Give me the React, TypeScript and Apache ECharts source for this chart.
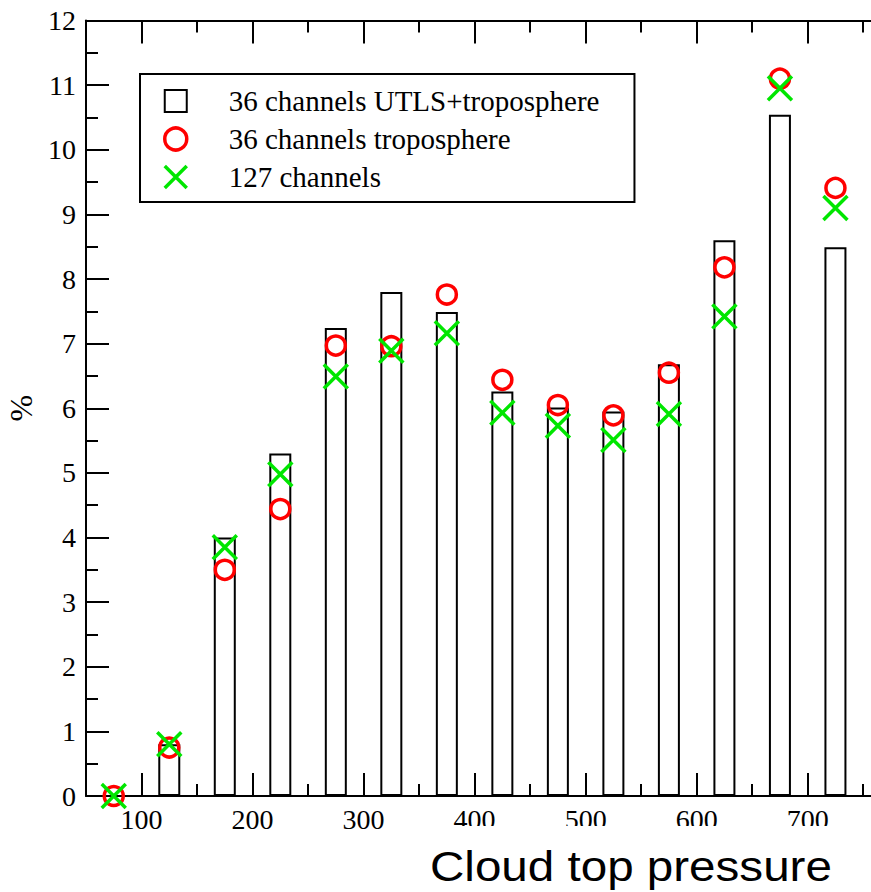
import React, { useEffect, useRef } from 'react';
import * as echarts from 'echarts';

// Cloud top pressure bin centres (hPa)
const pressure = [75, 125, 175, 225, 275, 325, 375, 425, 475, 525, 575, 625, 675, 725];
// 36 channels UTLS+troposphere (bars)
const utlsTropo = [0.0, 0.8, 4.0, 5.3, 7.24, 7.8, 7.49, 6.26, 6.01, 5.95, 6.68, 8.6, 10.54, 8.49];
// 36 channels troposphere (red circles)
const tropo = [0.0, 0.75, 3.5, 4.44, 6.97, 6.96, 7.76, 6.44, 6.05, 5.89, 6.55, 8.18, 11.1, 9.41];
// 127 channels (green crosses)
const ch127 = [0.0, 0.8, 3.85, 4.98, 6.49, 6.89, 7.16, 5.93, 5.73, 5.51, 5.91, 7.42, 10.95, 9.1];

const majorXTicks = [100, 200, 300, 400, 500, 600, 700];
const minorXTicks = [150, 250, 350, 450, 550, 650, 750];

const SERIES_NAMES = ['36 channels UTLS+troposphere', '36 channels troposphere', '127 channels'];

const SERIF = 'Liberation Serif';

export default function App() {
  const ref = useRef<HTMLDivElement>(null);

  useEffect(() => {
    if (!ref.current) return;
    const chart = echarts.init(ref.current, undefined, { renderer: 'svg' });

    const xMin = 50;
    const xMax = 760;
    const axisLineStyle = { color: '#000', width: 2 };

    const baseX = {
      type: 'value' as const,
      min: xMin,
      max: xMax,
      splitLine: { show: false },
    };

    chart.setOption({
      animation: false,
      backgroundColor: '#fff',
      grid: { left: 86, top: 20.5, right: -3.3, bottom: 96, containLabel: false, outerBoundsMode: 'none' },
      legend: {
        orient: 'vertical',
        left: 140,
        top: 74,
        padding: [12.5, 35, 10.5, 23],
        itemGap: 9,
        itemWidth: 22,
        itemHeight: 22,
        borderColor: '#000',
        borderWidth: 2,
        backgroundColor: '#fff',
        selectedMode: false,
        textStyle: {
          fontFamily: SERIF,
          fontSize: 29,
          color: '#000',
          lineHeight: 22,
          padding: [0, 0, 0, 37],
        },
        data: [
          { name: SERIES_NAMES[0], icon: 'rect', itemStyle: { color: '#fff', borderColor: '#000', borderWidth: 2 } },
          { name: SERIES_NAMES[1], icon: 'circle', itemStyle: { color: 'rgba(0,0,0,0)', borderColor: '#ff0000', borderWidth: 3.5 } },
          {
            name: SERIES_NAMES[2],
            icon: 'path://M0,0L10,10M10,0L0,10',
            itemStyle: { color: 'rgba(0,0,0,0)', borderColor: '#00e600', borderWidth: 3.5 },
          },
        ],
      },
      xAxis: [
        {
          ...baseX,
          position: 'bottom',
          axisLine: { show: true, onZero: false, lineStyle: axisLineStyle },
          axisTick: { show: true, inside: true, length: 23, customValues: majorXTicks, lineStyle: axisLineStyle },
          axisLabel: {
            show: true,
            customValues: majorXTicks,
            fontFamily: SERIF,
            fontSize: 28,
            color: '#000',
            margin: 9,
          },
        },
        {
          ...baseX,
          position: 'bottom',
          axisLine: { show: false },
          axisTick: { show: true, inside: true, length: 12, customValues: minorXTicks, lineStyle: axisLineStyle },
          axisLabel: { show: false },
        },
        {
          ...baseX,
          position: 'top',
          axisLine: { show: true, onZero: false, lineStyle: axisLineStyle },
          axisTick: { show: true, inside: true, length: 23, customValues: majorXTicks, lineStyle: axisLineStyle },
          axisLabel: { show: false },
        },
        {
          ...baseX,
          position: 'top',
          axisLine: { show: false },
          axisTick: { show: true, inside: true, length: 12, customValues: minorXTicks, lineStyle: axisLineStyle },
          axisLabel: { show: false },
        },
      ],
      yAxis: {
        type: 'value',
        min: 0,
        max: 12,
        interval: 1,
        name: '%',
        nameLocation: 'middle',
        nameGap: 45,
        nameRotate: 90,
        nameTextStyle: { fontFamily: SERIF, fontSize: 32, color: '#000' },
        axisLine: { show: true, onZero: false, lineStyle: axisLineStyle },
        axisTick: { show: true, inside: true, length: 23, lineStyle: axisLineStyle },
        minorTick: { show: true, splitNumber: 2, length: 12, lineStyle: axisLineStyle },
        splitLine: { show: false },
        minorSplitLine: { show: false },
        axisLabel: { fontFamily: SERIF, fontSize: 28, color: '#000', margin: 10 },
      },
      series: [
        {
          name: SERIES_NAMES[0],
          type: 'bar',
          xAxisIndex: 0,
          barWidth: 22,
          z: 2,
          itemStyle: { color: '#fff', borderColor: '#000', borderWidth: 2 },
          data: pressure.map((p, i) => [p, utlsTropo[i]]),
        },
        {
          name: SERIES_NAMES[1],
          type: 'scatter',
          xAxisIndex: 0,
          symbol: 'circle',
          symbolSize: 19,
          z: 3,
          itemStyle: { color: 'rgba(0,0,0,0)', borderColor: '#ff0000', borderWidth: 3.5, opacity: 1 },
          data: pressure.map((p, i) => [p, tropo[i]]),
        },
        {
          name: SERIES_NAMES[2],
          type: 'scatter',
          xAxisIndex: 0,
          symbol: 'path://M0,0L10,10M10,0L0,10',
          symbolSize: 24,
          z: 4,
          itemStyle: { color: 'rgba(0,0,0,0)', borderColor: '#00e600', borderWidth: 3.5, opacity: 1 },
          data: pressure.map((p, i) => [p, ch127[i]]),
        },
      ],
      graphic: [
        {
          type: 'rect',
          z: 100,
          shape: { x: 425, y: 826, width: 446, height: 66 },
          style: { fill: '#fff' },
        },
        {
          type: 'text',
          z: 101,
          x: 430,
          y: 866.7,
          scaleX: 1.133,
          style: {
            text: 'Cloud top pressure',
            fontFamily: 'Liberation Sans',
            fontSize: 42,
            fill: '#000',
            align: 'left',
            verticalAlign: 'middle',
          },
        },
      ],
    });

    return () => {
      chart.dispose();
    };
  }, []);

  return (
    <div
      ref={ref}
      style={{ position: 'fixed', left: 0, top: 0, width: 871, height: 892, background: '#fff' }}
    />
  );
}
